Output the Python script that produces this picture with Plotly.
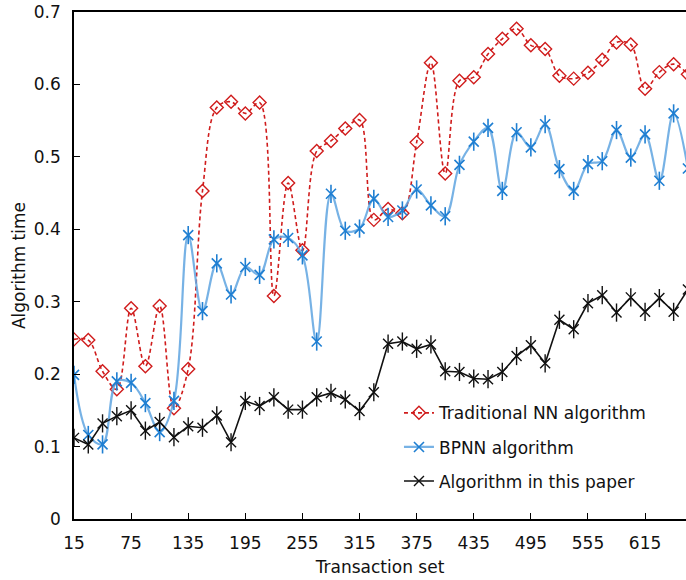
import plotly.graph_objects as go

x_vals = list(range(15, 661, 15))
x_ticks = [15, 75, 135, 195, 255, 315, 375, 435, 495, 555, 615]
y_ticks = [0, 0.1, 0.2, 0.3, 0.4, 0.5, 0.6, 0.7]
y_tick_text = ["0", "0.1", "0.2", "0.3", "0.4", "0.5", "0.6", "0.7"]

traditional_nn = [0.248, 0.247, 0.204, 0.179, 0.291, 0.211, 0.294, 0.153, 0.207, 0.453,
                  0.568, 0.576, 0.560, 0.575, 0.308, 0.464, 0.371, 0.508, 0.522, 0.539,
                  0.551, 0.413, 0.428, 0.422, 0.520, 0.630, 0.477, 0.605, 0.610, 0.642,
                  0.663, 0.677, 0.654, 0.649, 0.612, 0.608, 0.616, 0.634, 0.658, 0.655,
                  0.594, 0.617, 0.628, 0.614]
bpnn = [0.199, 0.116, 0.103, 0.190, 0.188, 0.160, 0.120, 0.163, 0.392, 0.287,
        0.353, 0.310, 0.348, 0.337, 0.386, 0.388, 0.364, 0.245, 0.449, 0.398,
        0.401, 0.442, 0.417, 0.426, 0.455, 0.433, 0.418, 0.489, 0.521, 0.540,
        0.453, 0.534, 0.513, 0.545, 0.483, 0.453, 0.490, 0.494, 0.537, 0.499,
        0.531, 0.467, 0.560, 0.484]
this_paper = [0.112, 0.103, 0.132, 0.142, 0.150, 0.122, 0.134, 0.113, 0.128, 0.126,
              0.143, 0.106, 0.163, 0.156, 0.168, 0.151, 0.151, 0.168, 0.174, 0.165,
              0.149, 0.175, 0.242, 0.245, 0.235, 0.241, 0.204, 0.203, 0.194, 0.193,
              0.203, 0.225, 0.240, 0.215, 0.275, 0.262, 0.298, 0.309, 0.285, 0.306,
              0.286, 0.305, 0.286, 0.317]

names = ["Traditional NN algorithm", "BPNN algorithm", "Algorithm in this paper"]

RED = "#d01c1c"
BLUE_LINE = "rgba(95,165,225,0.85)"
BLUE_MK = "#1f7fd2"
BLACK = "#111111"

FONT = "DejaVu Sans"
FS = 17

fig = go.Figure()

fig.add_trace(go.Scatter(
    x=x_vals, y=traditional_nn, name=names[0], mode="lines+markers",
    line=dict(color=RED, width=1.6, dash="4px,3px", shape="spline", smoothing=1.0),
    marker=dict(symbol="diamond-open", size=10, color=RED, line=dict(width=1.4, color=RED)),
    legendgroup="g1",
))

fig.add_trace(go.Scatter(
    x=x_vals, y=bpnn, name=names[1], mode="lines+markers",
    line=dict(color=BLUE_LINE, width=2.2, shape="spline", smoothing=1.0),
    marker=dict(symbol="x-thin-open", size=10, color=BLUE_MK, line=dict(width=1.6, color=BLUE_MK)),
    legendgroup="g2",
))
fig.add_trace(go.Scatter(
    x=x_vals, y=bpnn, name=names[1], mode="markers", showlegend=False,
    marker=dict(symbol="line-ns-open", size=13, color=BLUE_MK, line=dict(width=1.6, color=BLUE_MK)),
    legendgroup="g2", hoverinfo="skip",
))

fig.add_trace(go.Scatter(
    x=x_vals, y=this_paper, name=names[2], mode="lines+markers",
    line=dict(color=BLACK, width=1.6),
    marker=dict(symbol="x-thin-open", size=10, color=BLACK, line=dict(width=1.4, color=BLACK)),
    legendgroup="g3",
))
fig.add_trace(go.Scatter(
    x=x_vals, y=this_paper, name=names[2], mode="markers", showlegend=False,
    marker=dict(symbol="line-ns-open", size=13, color=BLACK, line=dict(width=1.4, color=BLACK)),
    legendgroup="g3", hoverinfo="skip",
))

fig.update_layout(
    width=686, height=580,
    margin=dict(l=74, r=0, t=12, b=61, autoexpand=False),
    paper_bgcolor="white", plot_bgcolor="white",
    font=dict(family=FONT, size=FS, color="#111111"),
    showlegend=True,
    legend=dict(
        x=0.531, y=0.244, xanchor="left", yanchor="top",
        bgcolor="rgba(0,0,0,0)", borderwidth=0,
        font=dict(family=FONT, size=FS, color="#111111"),
        tracegroupgap=9, traceorder="grouped",
    ),
    xaxis=dict(
        range=[15, 658], tickmode="array", tickvals=x_ticks,
        ticktext=[str(v) for v in x_ticks],
        showgrid=False, zeroline=False, automargin=False,
        showline=True, linecolor="black", linewidth=1.6, mirror=True,
        ticks="inside", ticklen=6, tickwidth=1.4, tickcolor="black",
        tickfont=dict(family=FONT, size=FS), ticklabelstandoff=8,
        title=dict(text="Transaction set", font=dict(family=FONT, size=FS), standoff=9),
    ),
    yaxis=dict(
        range=[0, 0.7], tickmode="array", tickvals=y_ticks, ticktext=y_tick_text,
        showgrid=False, zeroline=False, automargin=False,
        showline=True, linecolor="black", linewidth=1.6,
        ticks="inside", ticklen=6, tickwidth=1.4, tickcolor="black",
        tickfont=dict(family=FONT, size=FS), ticklabelstandoff=8,
        title=dict(text="Algorithm time", font=dict(family=FONT, size=FS), standoff=4),
    ),
)

fig.write_html(
    "out.html",
    config={"displayModeBar": False},
    post_script="document.body.style.margin='0';document.body.style.overflow='hidden';",
)
